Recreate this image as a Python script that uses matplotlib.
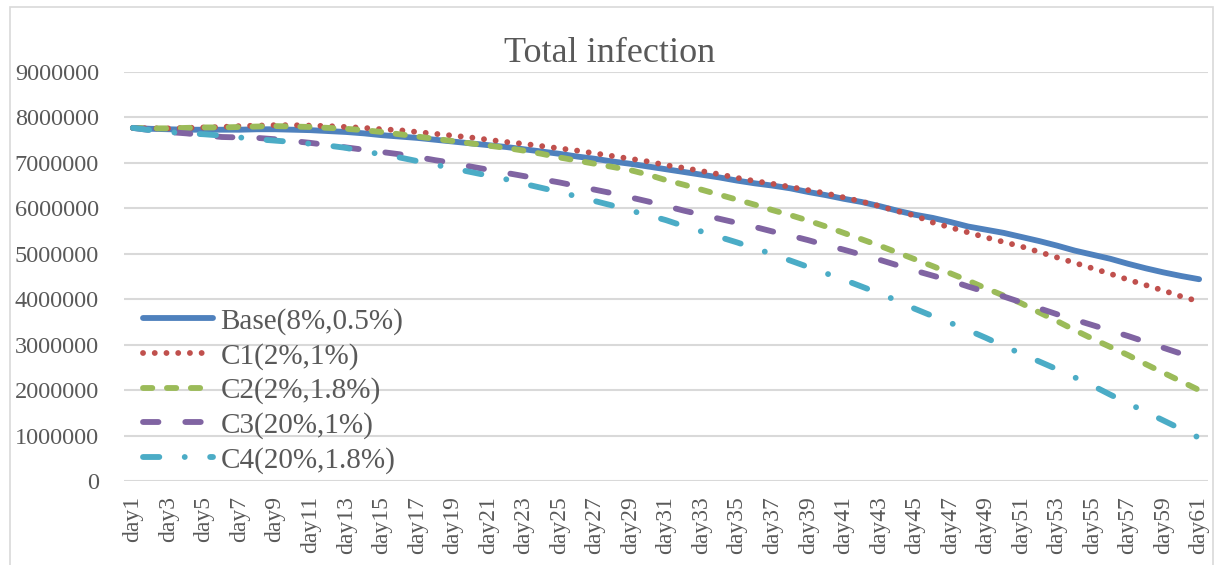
import matplotlib
matplotlib.use('Agg')
import matplotlib.pyplot as plt
import numpy as np
from matplotlib.patches import Rectangle

plt.rcParams['font.family'] = ['Liberation Serif', 'DejaVu Serif']

# x categories
days = ['day%d' % d for d in range(1, 62)]

# values in millions
base = [7.77, 7.75, 7.74, 7.73, 7.73, 7.73, 7.73, 7.74, 7.74, 7.73,
        7.72, 7.70, 7.68, 7.65, 7.61, 7.58, 7.55, 7.51, 7.47, 7.43,
        7.39, 7.35, 7.30, 7.25, 7.20, 7.14, 7.09, 7.03, 6.98, 6.92,
        6.86, 6.80, 6.74, 6.68, 6.61, 6.55, 6.50, 6.44, 6.36, 6.29,
        6.21, 6.14, 6.05, 5.95, 5.86, 5.79, 5.70, 5.60, 5.53, 5.46,
        5.37, 5.28, 5.18, 5.07, 4.98, 4.89, 4.78, 4.68, 4.59, 4.51,
        4.44]
c1 = [7.77, 7.76, 7.76, 7.77, 7.78, 7.79, 7.81, 7.82, 7.83, 7.83,
      7.82, 7.81, 7.79, 7.77, 7.74, 7.72, 7.68, 7.64, 7.60, 7.56,
      7.51, 7.46, 7.42, 7.37, 7.32, 7.27, 7.21, 7.15, 7.09, 7.03,
      6.95, 6.89, 6.82, 6.75, 6.67, 6.60, 6.54, 6.47, 6.40, 6.33,
      6.24, 6.15, 6.05, 5.94, 5.84, 5.69, 5.58, 5.47, 5.36, 5.26,
      5.16, 5.04, 4.92, 4.80, 4.68, 4.56, 4.43, 4.31, 4.19, 4.06,
      3.95]
c2 = [7.77, 7.76, 7.76, 7.77, 7.78, 7.78, 7.79, 7.80, 7.81, 7.80,
      7.79, 7.77, 7.75, 7.72, 7.68, 7.63, 7.58, 7.53, 7.48, 7.43,
      7.38, 7.33, 7.27, 7.20, 7.12, 7.05, 6.98, 6.91, 6.84, 6.74,
      6.62, 6.52, 6.41, 6.30, 6.19, 6.08, 5.96, 5.85, 5.73, 5.60,
      5.46, 5.32, 5.18, 5.03, 4.88, 4.73, 4.57, 4.41, 4.24, 4.08,
      3.91, 3.71, 3.52, 3.32, 3.13, 2.95, 2.77, 2.57, 2.38, 2.19,
      2.00]
c3 = [7.77, 7.72, 7.68, 7.65, 7.61, 7.57, 7.56, 7.55, 7.52, 7.48,
      7.44, 7.39, 7.34, 7.29, 7.24, 7.19, 7.13, 7.06, 7.00, 6.92,
      6.85, 6.78, 6.71, 6.64, 6.57, 6.49, 6.41, 6.33, 6.24, 6.15,
      6.05, 5.95, 5.86, 5.77, 5.68, 5.59, 5.49, 5.40, 5.30, 5.19,
      5.09, 4.98, 4.87, 4.75, 4.63, 4.52, 4.41, 4.28, 4.16, 4.06,
      3.93, 3.80, 3.67, 3.55, 3.43, 3.31, 3.19, 3.06, 2.93, 2.80,
      2.68]
c4 = [7.77, 7.72, 7.68, 7.65, 7.63, 7.60, 7.56, 7.52, 7.49, 7.46,
      7.42, 7.38, 7.33, 7.25, 7.19, 7.12, 7.04, 6.96, 6.88, 6.80,
      6.72, 6.64, 6.54, 6.45, 6.36, 6.26, 6.16, 6.06, 5.95, 5.85,
      5.74, 5.61, 5.49, 5.37, 5.25, 5.12, 4.99, 4.85, 4.71, 4.57,
      4.43, 4.28, 4.13, 3.97, 3.79, 3.63, 3.48, 3.32, 3.15, 2.97,
      2.80, 2.63, 2.46, 2.28, 2.10, 1.90, 1.71, 1.52, 1.33, 1.14,
      0.95]

labels = ['Base(8%,0.5%)', 'C1(2%,1%)', 'C2(2%,1.8%)', 'C3(20%,1%)', 'C4(20%,1.8%)']
yticks = [0, 1000000, 2000000, 3000000, 4000000, 5000000, 6000000, 7000000, 8000000, 9000000]

text_col = '#595959'
grid_col = '#d9d9d9'

fig = plt.figure(figsize=(12.2, 5.65), dpi=100)
ax = fig.add_axes([124 / 1220, 1 - 481 / 565, 1084 / 1220, 409 / 565])

# chart border
fig.patches.append(Rectangle((10 / 1220, -0.05), 1203 / 1220, 1.05 - 7 / 565,
                             transform=fig.transFigure, fill=False,
                             edgecolor=grid_col, linewidth=1.2))

x = np.arange(len(days))
lw = 4.2
styles = [
    dict(color='#4F81BD', linestyle='-', solid_capstyle='round'),
    dict(color='#C0504D', dashes=(0.01, 2.0), dash_capstyle='round'),
    dict(color='#9BBB59', dashes=(1.6, 2.5), dash_capstyle='round'),
    dict(color='#8064A2', dashes=(2.65, 4.6), dash_capstyle='round'),
    dict(color='#4BACC6', dashes=(2.8, 4.35, 0.01, 4.35), dash_capstyle='round'),
]
for vals, lab, st in zip([base, c1, c2, c3, c4], labels, styles):
    ax.plot(x, np.array(vals) * 1e6, linewidth=lw, label=lab, zorder=3, **st)

ax.set_xlim(-0.5, len(days) - 0.5)
ax.set_ylim(0, 9000000)
ax.set_yticks(yticks)
ax.set_yticklabels([str(v) for v in yticks])
ax.set_xticks(x[::2])
ax.set_xticklabels(days[::2], rotation=90)
ax.tick_params(axis='y', length=0, pad=18, labelsize=17.5, labelcolor=text_col)
ax.tick_params(axis='x', length=0, pad=11, labelsize=17, labelcolor=text_col)

ax.grid(axis='y', color=grid_col, linewidth=1.5, zorder=0)
ax.set_axisbelow(True)
for s in ax.spines.values():
    s.set_visible(False)

fig.text(0.5, 1 - 62 / 565, 'Total infection', ha='center', va='baseline',
         fontsize=26, color=text_col)

leg = ax.legend(loc='upper left', bbox_to_anchor=(19 / 1084, (481 - 308) / 409),
                frameon=False, fontsize=21, handlelength=2.4, handletextpad=0.25,
                labelspacing=0.265, borderpad=0, borderaxespad=0)
for t in leg.get_texts():
    t.set_color(text_col)

fig.savefig('out.png', dpi=100)
